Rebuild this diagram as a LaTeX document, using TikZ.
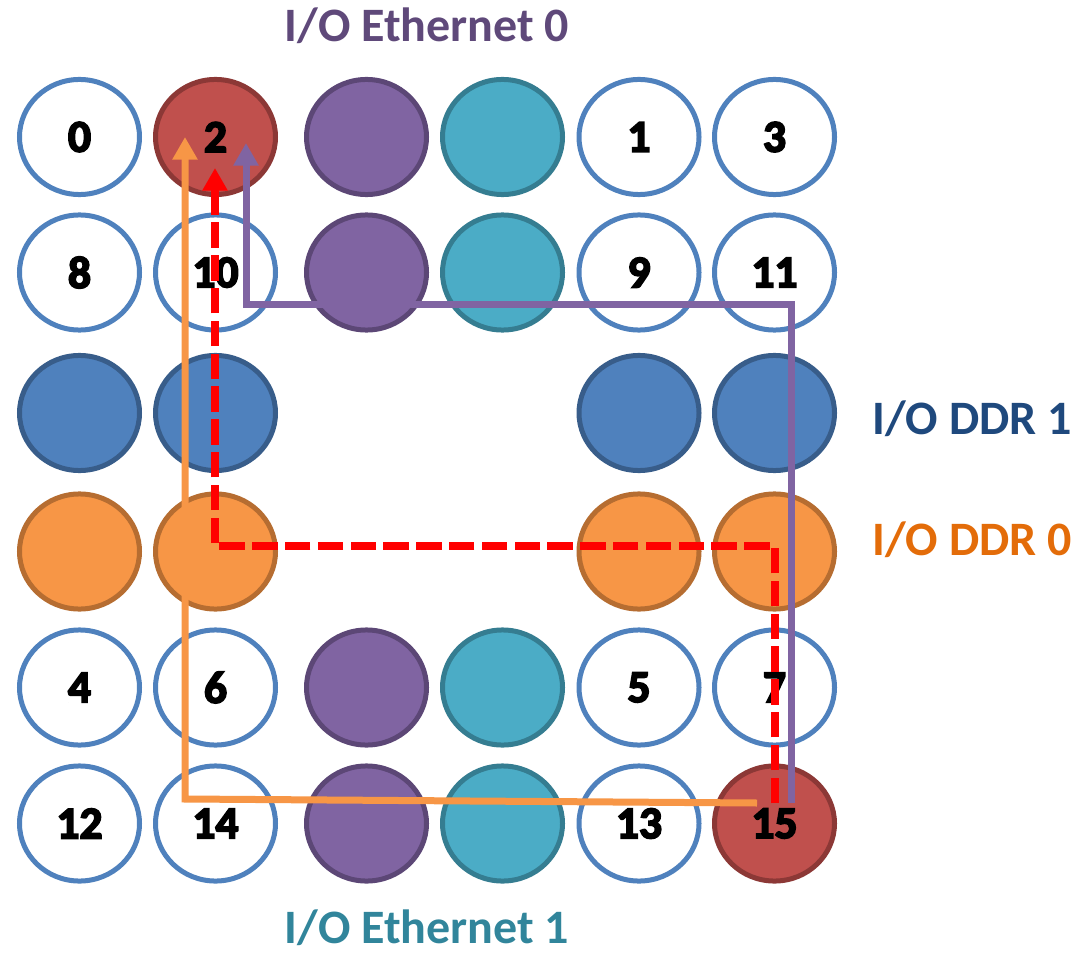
\documentclass[tikz,border=0pt]{standalone}
\usepackage{fontspec}
\setmainfont{Carlito}
\newfontfamily\numfont{Carlito}[BoldFeatures={FakeBold=4}]
\usetikzlibrary{shapes.geometric,arrows.meta}

\definecolor{coreline}{HTML}{4F81BD}
\definecolor{hotfill}{HTML}{C0504D}
\definecolor{hotline}{HTML}{8C3836}
\definecolor{ethAfill}{HTML}{8064A2}
\definecolor{ethAline}{HTML}{5C4776}
\definecolor{ethBfill}{HTML}{4BACC6}
\definecolor{ethBline}{HTML}{357D91}
\definecolor{ddrBfill}{HTML}{4F81BD}
\definecolor{ddrBline}{HTML}{385D8A}
\definecolor{ddrAfill}{HTML}{F79646}
\definecolor{ddrAline}{HTML}{B66D31}
\definecolor{ethAtext}{HTML}{5F497A}
\definecolor{ethBtext}{HTML}{31859B}
\definecolor{ddrBtext}{HTML}{1F497D}
\definecolor{ddrAtext}{HTML}{E36C09}

\begin{document}
\begin{tikzpicture}[x=0.75pt,y=-0.75pt,
  tile/.style={ellipse,inner sep=0pt,minimum width=90pt,minimum height=86.3pt,
    line width=3.75pt,font=\numfont\bfseries\fontsize{34}{34}\selectfont},
  core/.style={tile,draw=coreline,fill=white},
  hot/.style={tile,draw=hotline,fill=hotfill},
  etha/.style={tile,draw=ethAline,fill=ethAfill},
  ethb/.style={tile,draw=ethBline,fill=ethBfill},
  ddrb/.style={tile,draw=ddrBline,fill=ddrBfill},
  ddra/.style={tile,draw=ddrAline,fill=ddrAfill},
  label/.style={inner sep=0pt,font=\bfseries\fontsize{36}{40}\selectfont},
  route/.style={line width=5.25pt,line join=miter},
  tip/.style={-{Triangle[width=18pt,length=17pt,fill=#1]}},
]
\path[use as bounding box] (0,0) rectangle (1084,955);

% columns: 79.5 215.5 366.5 502.5 639 774.5
% rows:    137 272.5 413 551.5 687.5 823.5

% row 0
\node[core] (t0)  at (79.5,137) {0};
\node[hot]  (t2)  at (215.5,137) {2};
\node[etha] (ea0) at (366.5,137) {};
\node[ethb] (eb0) at (502.5,137) {};
\node[core] (t1)  at (639,137) {1};
\node[core] (t3)  at (774.5,137) {3};
% row 1
\node[core] (t8)  at (79.5,272.5) {8};
\node[core] (t10) at (215.5,272.5) {10};
\node[etha] (ea1) at (366.5,272.5) {};
\node[ethb] (eb1) at (502.5,272.5) {};
\node[core] (t9)  at (639,272.5) {9};
\node[core] (t11) at (774.5,272.5) {11};
% row 2
\node[ddrb] (db0) at (79.5,413) {};
\node[ddrb] (db1) at (215.5,413) {};
\node[ddrb] (db2) at (639,413) {};
\node[ddrb] (db3) at (774.5,413) {};
% row 3
\node[ddra] (da0) at (79.5,551.5) {};
\node[ddra] (da1) at (215.5,551.5) {};
\node[ddra] (da2) at (639,551.5) {};
\node[ddra] (da3) at (774.5,551.5) {};
% row 4
\node[core] (t4)  at (79.5,687.5) {4};
\node[core] (t6)  at (215.5,687.5) {6};
\node[etha] (ea2) at (366.5,687.5) {};
\node[ethb] (eb2) at (502.5,687.5) {};
\node[core] (t5)  at (639,687.5) {5};
\node[core] (t7)  at (774.5,687.5) {7};
% row 5
\node[core] (t12) at (79.5,823.5) {12};
\node[core] (t14) at (215.5,823.5) {14};
\node[etha] (ea3) at (366.5,823.5) {};
\node[ethb] (eb3) at (502.5,823.5) {};
\node[core] (t13) at (639,823.5) {13};
\node[hot]  (t15) at (774.5,823.5) {15};

% I/O labels
\node[label,text=ethAtext,anchor=base] (lEthA) at (427,42) {I/O Ethernet 0};
\node[label,text=ethBtext,anchor=base] (lEthB) at (427,943) {I/O Ethernet 1};
\node[label,text=ddrBtext,anchor=base west] (lDdrB) at (872,434) {I/O DDR 1};
\node[label,text=ddrAtext,anchor=base west] (lDdrA) at (872,555) {I/O DDR 0};

% route bend points
\coordinate (oS) at (757,803);
\coordinate (oB) at (185,799);
\coordinate (oE) at (185,137);
\coordinate (rS) at (775,803);
\coordinate (rB1) at (775,546);
\coordinate (rB2) at (215,546);
\coordinate (rE) at (215,168);
\coordinate (pS) at (791,803);
\coordinate (pB1) at (791,305);
\coordinate (pB2) at (246,305);
\coordinate (pE) at (246,143);

% routes from tile 15 to tile 2
\draw[route,draw=ddrAfill,tip=ddrAfill] (oS) -- (oB) -- (oE);
\draw[route,draw=ethAfill,tip=ethAfill] (pS) -- (pB1) -- (pB2) -- (pE);
\draw[route,draw=red,line width=6pt,dash pattern=on 19pt off 5.6pt,tip=red]
  (rS) -- (rB1) -- (rB2) -- (rE);
\end{tikzpicture}
\end{document}
